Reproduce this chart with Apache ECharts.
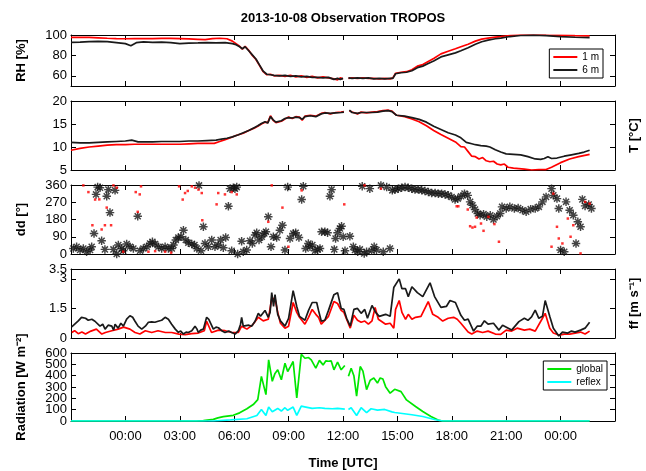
<!DOCTYPE html>
<html>
<head>
<meta charset="utf-8">
<script src="https://cdn.jsdelivr.net/npm/echarts@6/dist/echarts.min.js"></script>
<style>
  html, body { margin: 0; padding: 0; background: #fff; }
  #chart { width: 646px; height: 471px; }
</style>
</head>
<body>
<div id="chart"></div>
<script>
// time in hours from 2013-10-08 00:00 UTC, [t, value]
const rh1m = [[-3,97.7],[-2.5,97.8],[-2,97.6],[-1.5,97.2],[-1,96.8],[-0.5,96.5],[0,96.3],[0.5,96.5],[1,96.4],[1.5,96.5],[2,96.6],[2.5,96.6],[3,96.5],[3.5,96.2],[4,95.8],[4.4,95.5],[4.8,96.5],[5.2,96.8],[5.6,96.3],[5.9,94],[6.1,91.5],[6.3,89],[6.45,86],[6.6,89],[6.8,85],[7,80],[7.2,76],[7.4,70],[7.6,64],[7.8,61],[8,61.5],[8.2,60],[8.5,60.5],[8.8,59.5],[9.1,60.5],[9.4,59],[9.7,60],[10,58.5],[10.3,59.5],[10.6,58],[10.9,59],[11.2,58],[11.5,57],[11.7,56],[11.85,58],[12,57],[12.15,null],[12.3,57.5],[12.5,58],[12.8,57.5],[13.1,58],[13.4,57.5],[13.7,57.5],[14,57],[14.3,57.5],[14.6,57],[14.75,58],[14.9,62.5],[15.2,63.5],[15.5,64],[15.8,66],[16.1,69.5],[16.4,71],[16.7,74],[17,77],[17.4,81.5],[17.8,84],[18.2,86.5],[18.5,88.5],[18.9,91],[19.3,94],[19.65,96],[20,97],[20.4,98],[20.7,98.5],[21.2,99.5],[21.8,100],[22.5,100],[23.2,99.8],[24,99.6],[24.8,99.3],[25.6,99.2]];
const rh6m = [[-3,92.8],[-2.5,93],[-2,93.5],[-1.5,93.8],[-1,93.5],[-0.5,92.5],[0,91.5],[0.3,89.5],[0.6,92.5],[1,93.2],[1.5,92.8],[2,93],[2.5,92.5],[3,91.5],[3.5,92],[4,92.2],[4.5,92.5],[5,92.3],[5.5,92.5],[5.9,91.5],[6.1,90.5],[6.3,88.5],[6.45,86.5],[6.6,88.5],[6.8,84.5],[7,80.5],[7.2,76.5],[7.4,70.5],[7.6,64.5],[7.8,61.5],[8,61],[8.2,60.5],[8.5,60],[8.8,60.5],[9.1,59.5],[9.4,60],[9.7,59],[10,59.5],[10.3,58.5],[10.6,58.5],[10.9,58],[11.2,58.5],[11.5,56.5],[11.7,57.5],[11.85,56.5],[12,57.5],[12.15,null],[12.3,58],[12.5,57.5],[12.8,58],[13.1,57.5],[13.4,58],[13.7,57],[14,57.5],[14.3,57],[14.6,57.5],[14.75,57.5],[14.9,62],[15.2,63],[15.5,63.5],[15.8,65],[16.1,68],[16.4,69.5],[16.7,72],[17,74.5],[17.4,78.5],[17.8,80.5],[18.2,82.5],[18.5,84.5],[18.9,87.5],[19.3,91],[19.65,93.4],[20,95],[20.4,96.3],[20.7,97],[21.2,98.5],[21.8,99.5],[22.5,99.8],[23.2,99.3],[24,98.5],[24.8,97.8],[25.6,97.5]];

const t1m = [[-3,9.3],[-2.5,9.7],[-2,10],[-1.5,10.2],[-1,10.4],[-0.5,10.5],[0,10.5],[0.5,10.6],[1,10.6],[1.5,10.6],[2,10.6],[2.5,10.6],[3,10.6],[3.5,10.7],[4,10.8],[4.5,10.8],[4.9,10.8],[5.2,11.2],[5.5,11.6],[5.8,12],[6.1,12.5],[6.5,13],[6.8,13.6],[7.1,14.1],[7.3,14.5],[7.5,15],[7.7,15.4],[7.85,15.3],[8,16.8],[8.15,15.8],[8.3,15.3],[8.6,15.6],[8.8,16.1],[9,16.5],[9.2,16.2],[9.4,16.6],[9.6,16.5],[9.75,15.8],[9.9,16.7],[10.2,16.9],[10.5,16.7],[10.8,17.3],[11,17.5],[11.3,17.2],[11.6,17.5],[11.9,17.6],[12.05,17.7],[12.2,null],[12.35,17.9],[12.5,17.6],[12.8,17.2],[13,17.6],[13.3,17.4],[13.6,17.6],[13.9,17.7],[14.2,17.9],[14.5,18],[14.7,17.8],[14.95,16.9],[15.4,16.6],[15.8,16.1],[16.2,15.5],[16.6,14.6],[17,13.6],[17.4,12.7],[17.8,11.9],[18.2,11.1],[18.5,10.1],[18.7,10],[18.9,9],[19.1,8],[19.3,7.9],[19.5,7.4],[19.7,7.7],[19.9,7],[20.1,6.8],[20.3,6.9],[20.5,6.3],[20.7,6.1],[20.9,6.3],[21.1,5.6],[21.4,5.4],[21.7,5.3],[22,5.2],[22.4,5],[22.8,5.1],[23.2,5.1],[23.5,5.6],[24,6.6],[24.5,7.4],[25,7.9],[25.6,8.4]];
const t6m = [[-3,11],[-2.5,10.9],[-2,10.9],[-1.5,11],[-1,11.1],[-0.5,11.2],[0,11.3],[0.35,11.5],[0.7,11.1],[1,11.1],[1.5,11.1],[2,11.2],[2.5,11.2],[3,11.2],[3.5,11.3],[4,11.3],[4.5,11.4],[5,11.5],[5.3,11.7],[5.6,11.9],[5.9,12.2],[6.2,12.6],[6.5,13.1],[6.8,13.6],[7.1,14.2],[7.3,14.6],[7.5,15.1],[7.7,15.5],[7.85,15.2],[8,16.6],[8.15,15.9],[8.3,15.4],[8.6,15.7],[8.8,16.2],[9,16.4],[9.2,16.3],[9.4,16.5],[9.6,16.4],[9.75,16],[9.9,16.6],[10.2,16.8],[10.5,16.6],[10.8,17.2],[11,17.4],[11.3,17.3],[11.6,17.4],[11.9,17.5],[12.05,17.6],[12.2,null],[12.35,18],[12.5,17.5],[12.8,17.3],[13,17.5],[13.3,17.5],[13.6,17.5],[13.9,17.6],[14.2,17.8],[14.5,17.9],[14.7,17.7],[14.95,16.9],[15.4,16.7],[15.8,16.4],[16.2,16],[16.6,15.4],[17,14.5],[17.4,13.8],[17.8,13.1],[18.2,12.6],[18.5,12],[18.8,11],[19.1,10.7],[19.3,10.5],[19.6,10.3],[19.9,10.2],[20.1,10],[20.4,9.4],[20.7,8.9],[21,8.5],[21.4,8.4],[21.8,8.3],[22.2,7.9],[22.6,7.4],[22.9,7.3],[23.1,7.5],[23.3,7.9],[23.5,7.5],[23.8,7.6],[24.2,8],[24.6,8.3],[25,8.6],[25.3,8.9],[25.6,9.3]];

const dd6m = [[-2.87,29],[-2.69,38],[-2.5,21],[-2.32,29],[-2.14,12],[-1.95,21],[-1.86,38],[-1.73,107],[-1.62,311],[-1.53,349],[-1.4,346],[-1.31,69],[-1.13,24],[-1.03,301],[-0.94,336],[-0.85,216],[-0.66,24],[-0.57,332],[-0.48,0],[-0.39,47],[-0.21,29],[-0.12,17],[0.07,52],[0.25,38],[0.44,29],[0.68,197],[0.81,17],[0.99,29],[1.18,38],[1.36,55],[1.49,64],[1.64,52],[1.82,38],[2,29],[2.19,38],[2.37,29],[2.56,29],[2.65,47],[2.78,73],[2.92,86],[3.07,90],[3.2,124],[3.33,73],[3.47,59],[3.66,52],[3.81,47],[3.94,29],[4.06,358],[4.17,17],[4.3,142],[4.39,55],[4.57,38],[4.76,73],[4.94,38],[5.12,47],[5.25,73],[5.4,33],[5.53,86],[5.68,249],[5.77,341],[5.86,17],[5.95,346],[6.04,341],[6.14,349],[6.19,0],[6.41,67],[6.5,12],[6.69,21],[6.87,69],[7,55],[7.15,99],[7.24,111],[7.37,73],[7.52,90],[7.66,107],[7.75,116],[7.88,194],[8.03,38],[8.16,90],[8.34,86],[8.52,124],[8.66,150],[8.8,21],[8.95,349],[9.08,81],[9.26,107],[9.39,111],[9.57,86],[9.72,284],[9.81,353],[9.94,29],[10.09,55],[10.18,38],[10.31,47],[10.46,17],[10.6,24],[10.73,29],[10.82,116],[11,116],[11.15,111],[11.28,301],[11.37,336],[11.52,24],[11.59,81],[11.7,111],[11.83,133],[11.92,145],[12.01,90],[12.11,17],[12.38,93],[12.57,38],[12.66,21],[12.81,12],[12.93,24],[13.06,353],[13.17,3],[13.3,12],[13.48,341],[13.58,17],[13.72,38],[13.85,21],[14.09,358],[14.22,12],[14.41,349],[14.59,29],[14.72,332],[14.87,336],[15.05,341],[15.23,346],[15.42,349],[15.6,346],[15.79,341],[15.97,336],[16.16,336],[16.34,332],[16.52,329],[16.71,323],[16.89,318],[17.08,318],[17.26,315],[17.44,315],[17.63,311],[17.81,306],[17.99,297],[18.18,284],[18.33,289],[18.51,301],[18.7,315],[18.88,306],[19.01,272],[19.14,254],[19.28,232],[19.43,211],[19.56,202],[19.75,208],[19.93,194],[20.12,202],[20.3,180],[20.49,197],[20.67,211],[20.77,246],[21,237],[21.2,246],[21.45,237],[21.66,240],[21.9,228],[22.1,220],[22.35,234],[22.6,237],[22.8,246],[23,272],[23.2,298],[23.5,341],[23.6,306],[23.8,289],[23.9,237],[24,21],[24.2,12],[24.3,272],[24.5,228],[24.7,202],[24.85,55],[24.95,168],[25.1,142],[25.2,285],[25.35,251],[25.55,258],[25.7,237]];
const dd1m = [[-2.32,358],[-2.04,323],[-1.82,150],[-1.67,284],[-1.44,285],[-1.31,128],[-1.13,150],[-1.03,242],[-0.79,150],[-0.66,358],[-0.48,346],[-0.12,12],[0.57,323],[0.79,311],[0.68,220],[0.86,353],[1.27,12],[1.64,15],[2.19,12],[2.52,7],[2.96,353],[3.16,284],[3.29,318],[3.44,329],[3.66,353],[3.84,346],[4.03,336],[4.21,318],[4.24,176],[5.03,259],[5.12,318],[5.49,311],[5.86,323],[6.14,311],[7.88,168],[8.07,358],[8.66,242],[8.99,38],[9.72,332],[12.07,259],[13.19,358],[14.09,341],[18.27,249],[18.36,249],[18.88,232],[19.01,145],[19.14,138],[19.28,142],[19.37,190],[19.61,159],[19.75,121],[20.02,194],[20.35,156],[20.6,64],[23.5,38],[23.6,315],[23.8,142],[23.9,81],[24.1,55],[24.4,185],[24.55,90],[24.7,150],[25.1,3],[25.35,272],[25.6,263]];

const ff6m = [[-2.96,0.57],[-2.6,0.87],[-2.42,1.05],[-2.2,1],[-2.05,0.9],[-1.85,0.95],[-1.68,0.85],[-1.4,0.6],[-1.25,0.7],[-1.12,0.45],[-0.95,0.65],[-0.75,0.6],[-0.65,0.4],[-0.57,0.7],[-0.4,0.5],[-0.25,0.75],[-0.11,0.6],[0.07,0.96],[0.25,1.13],[0.4,1.05],[0.53,0.85],[0.7,0.6],[0.9,0.45],[1.1,0.6],[1.27,0.8],[1.45,0.82],[1.63,0.8],[1.8,0.85],[2,0.9],[2.19,1.05],[2.37,0.95],[2.55,0.7],[2.75,0.45],[2.92,0.29],[3.05,0.35],[3.2,0.2],[3.35,0.3],[3.47,0.28],[3.66,0.37],[3.84,0.6],[3.95,0.45],[4.02,0.28],[4.15,0.4],[4.3,0.45],[4.48,1.05],[4.6,0.95],[4.67,0.85],[4.85,0.45],[5,0.55],[5.13,0.52],[5.31,0.37],[5.49,0.28],[5.7,0.35],[5.86,0.28],[6.05,0.2],[6.23,0.37],[6.35,0.7],[6.41,1.05],[6.5,0.6],[6.6,0.55],[6.8,0.65],[6.96,0.6],[7.15,0.85],[7.33,1.25],[7.45,1.1],[7.52,1],[7.7,1.4],[7.88,1.05],[7.98,1.3],[8.07,2.3],[8.17,1.6],[8.25,2.2],[8.4,1.2],[8.55,0.87],[8.8,0.6],[9,1],[9.25,2.4],[9.45,1.6],[9.6,1.1],[9.9,0.9],[10.1,1.4],[10.3,1.8],[10.55,1.8],[10.65,1.4],[10.8,0.86],[11,0.9],[11.2,1.4],[11.5,2.2],[11.7,2.3],[11.9,1.5],[12.05,1.45],[12.2,1],[12.4,0.6],[12.6,1.45],[12.8,1.5],[13,1.25],[13.2,1.45],[13.35,1],[13.6,1.65],[13.8,1.3],[14,1.1],[14.35,1.2],[14.6,1.1],[14.8,2.56],[15.1,3],[15.25,2.5],[15.45,2.5],[15.6,2.1],[15.8,2.6],[16.1,2.3],[16.4,2.1],[16.8,2.8],[17.05,2.1],[17.4,1.55],[17.7,1.6],[17.9,1.9],[18.2,1.8],[18.5,1.15],[18.7,0.9],[18.9,0.96],[19.2,0.35],[19.4,0.6],[19.6,0.6],[19.8,0.87],[20,0.7],[20.3,0.75],[20.6,0.4],[20.8,0.65],[21.3,0.4],[21.7,0.83],[22,1],[22.2,0.9],[22.4,1.07],[22.6,1.41],[22.8,1],[23,1.1],[23.15,1.9],[23.4,1.1],[23.6,0.5],[23.9,0.1],[24.1,0.3],[24.4,0.25],[24.6,0.35],[24.8,0.3],[25.1,0.4],[25.35,0.5],[25.6,0.8]];
const ff1m = [[-2.96,0.28],[-2.8,0.37],[-2.6,0.22],[-2.4,0.3],[-2.2,0.2],[-1.9,0.35],[-1.6,0.45],[-1.3,0.2],[-1.1,0.28],[-0.75,0.37],[-0.4,0.45],[-0.1,0.55],[0.25,0.45],[0.53,0.28],[0.8,0.2],[1.1,0.37],[1.45,0.28],[1.8,0.37],[2.2,0.28],[2.55,0.28],[2.95,0.2],[3.3,0.17],[3.66,0.22],[4.02,0.25],[4.35,0.37],[4.48,0.85],[4.75,0.28],[5.13,0.4],[5.5,0.37],[5.86,0.28],[6.23,0.28],[6.41,0.6],[6.7,0.45],[7,0.65],[7.33,1.05],[7.6,0.87],[7.88,0.95],[8.07,2],[8.25,2],[8.4,1.3],[8.55,0.75],[8.8,0.5],[9,0.6],[9.25,1.8],[9.45,1.3],[9.6,1.05],[9.9,0.7],[10.1,1.05],[10.3,1.45],[10.5,1.2],[10.65,1.05],[10.8,0.7],[11.2,1.1],[11.5,1.85],[11.7,1.75],[11.9,1.4],[12.05,1.3],[12.2,0.95],[12.4,0.5],[12.6,1.15],[12.8,0.9],[13,0.8],[13.2,0.86],[13.4,0.7],[13.6,0.87],[13.77,1.55],[13.95,0.95],[14.35,0.7],[14.6,0.75],[14.8,0.5],[14.9,1.45],[15.1,1.9],[15.25,1.3],[15.45,0.95],[15.6,1.2],[15.8,0.95],[16,1.05],[16.3,1.1],[16.7,1.85],[16.95,1.2],[17.25,1.05],[17.5,0.86],[17.8,1],[18.1,1.05],[18.3,0.95],[18.5,0.75],[18.9,0.3],[19.1,0.2],[19.4,0.35],[19.7,0.28],[20,0.35],[20.4,0.2],[20.7,0.18],[21,0.4],[21.3,0.35],[21.6,0.5],[22,0.4],[22.3,0.45],[22.6,0.35],[23,1],[23.15,1.25],[23.4,0.5],[23.6,0.25],[23.9,0.15],[24.2,0.2],[24.5,0.2],[24.8,0.25],[25.1,0.3],[25.35,0.2],[25.6,0.35]];

const radGlobal = [[-3,0],[3.9,0],[4.3,4],[4.85,14],[5.1,28],[5.4,38],[5.95,50],[6.3,72],[6.7,108],[7.05,145],[7.3,189],[7.5,394],[7.75,233],[7.9,539],[8.1,350],[8.25,420],[8.4,452],[8.6,364],[8.8,510],[8.95,437],[9.1,480],[9.25,525],[9.45,204],[9.7,589],[9.9,554],[10.1,560],[10.25,539],[10.5,466],[10.7,535],[10.9,495],[11.05,530],[11.2,527],[11.35,530],[11.5,452],[11.7,520],[11.9,452],[12.1,490],[12.2,null],[12.3,394],[12.45,466],[12.6,400],[12.75,219],[12.95,481],[13.1,440],[13.3,277],[13.5,360],[13.7,379],[13.9,335],[14.05,380],[14.2,370],[14.35,303],[14.6,245],[14.85,280],[15.2,259],[15.5,186],[16,128],[16.4,84],[16.85,40],[17.3,5],[17.5,0],[25.6,0]];
const radReflex = [[-3,0],[4.85,0],[5.8,10],[6.7,20],[7.25,49],[7.5,102],[7.75,49],[7.9,123],[8.1,81],[8.4,111],[8.6,88],[8.8,117],[8.95,94],[9.25,123],[9.45,49],[9.7,131],[9.95,123],[10.3,111],[10.7,117],[11,111],[11.4,108],[11.7,111],[12.1,105],[12.2,null],[12.3,102],[12.45,117],[12.75,49],[13,117],[13.3,73],[13.55,108],[13.9,96],[14.3,102],[14.7,81],[14.85,75],[15.8,55],[16.4,40],[17.1,11],[17.5,0],[25.6,0]];

// tick positions and label groups (labels split in groups so they never hide each other)
const rhTicks = [60, 80, 100];
const tTicks = [5, 10, 15, 20];
const ddTicks = [0, 90, 180, 270, 360];
const ffTicks = [0, 1.5, 3, 3.5];
const radTicks = [0, 100, 200, 300, 400, 500, 600];
const ffLabelGroups = [[0, 1.5, 3], [3.5]];
const radLabelGroups = [[0, 200, 400, 600], [100, 300, 500]];

const FONT = 'Liberation Sans, Arial, Helvetica, sans-serif';
const ASTERISK = 'path://M-1.7,-10L1.7,-10L1.7,10L-1.7,10Z M-10,-1.7L10,-1.7L10,1.7L-10,1.7Z M-8.3,-5.9L-5.9,-8.3L8.3,5.9L5.9,8.3Z M5.9,-8.3L8.3,-5.9L-5.9,8.3L-8.3,5.9Z';

const panels = [
  {top: 35, height: 51, min: 50, max: 100, ticks: rhTicks, labels: [rhTicks], name: 'RH [%]', side: 'left'},
  {top: 101, height: 69, min: 5, max: 20, ticks: tTicks, labels: [tTicks], name: 'T [°C]', side: 'right'},
  {top: 185, height: 69, min: 0, max: 360, ticks: ddTicks, labels: [ddTicks], name: 'dd [°]', side: 'left'},
  {top: 269, height: 69, min: 0, max: 3.5, ticks: ffTicks, labels: ffLabelGroups, name: 'ff [m s⁻¹]', side: 'right'},
  {top: 353, height: 68, min: 0, max: 600, ticks: radTicks, labels: radLabelGroups, name: 'Radiation [W m⁻²]', side: 'left'}
];

function hhmm(v) {
  const h = ((v % 24) + 24) % 24;
  return (h < 10 ? '0' : '') + h + ':00';
}

const grid = [], xAxis = [], yAxis = [];
const tickStyle = {show: true, inside: true, length: 5, lineStyle: {color: '#000', width: 1}};
const boxLine = {show: true, onZero: false, lineStyle: {color: '#000', width: 1}};
const labelFont = {color: '#000', fontSize: 13, fontFamily: FONT};
const nameFont = {fontWeight: 'bold', fontSize: 13, color: '#000', fontFamily: FONT};
const yIndex = [];

panels.forEach((p, i) => {
  grid.push({left: 71, right: 31, top: p.top, height: p.height, show: false, outerBoundsMode: 'none'});
  const last = i === panels.length - 1;
  xAxis.push({
    type: 'value', gridIndex: i, position: 'bottom', min: -3, max: 27, interval: 3,
    axisLine: boxLine, splitLine: {show: false}, axisTick: tickStyle,
    axisLabel: last ? Object.assign({formatter: hhmm, showMinLabel: false, showMaxLabel: false, margin: 9}, labelFont) : {show: false},
    name: last ? 'Time [UTC]' : '', nameLocation: 'middle', nameGap: 36, nameTextStyle: nameFont
  });
  xAxis.push({
    type: 'value', gridIndex: i, position: 'top', min: -3, max: 27, interval: 3,
    axisLine: boxLine, splitLine: {show: false}, axisTick: tickStyle, axisLabel: {show: false}
  });

  yIndex.push(yAxis.length);
  // left axis: box line, ticks, first label group
  yAxis.push({
    type: 'value', gridIndex: i, position: 'left', min: p.min, max: p.max,
    axisLine: boxLine, splitLine: {show: false},
    axisTick: Object.assign({customValues: p.ticks}, tickStyle),
    axisLabel: Object.assign({customValues: p.labels[0], margin: 4, showMinLabel: true, showMaxLabel: true}, labelFont),
    name: p.side === 'left' ? p.name : '', nameLocation: 'middle', nameRotate: 90, nameGap: 43, nameTextStyle: nameFont
  });
  // extra label groups on the left
  p.labels.slice(1).forEach(group => {
    yAxis.push({
      type: 'value', gridIndex: i, position: 'left', min: p.min, max: p.max,
      axisLine: {show: false, onZero: false}, splitLine: {show: false}, axisTick: {show: false},
      axisLabel: Object.assign({customValues: group, margin: 4, showMinLabel: true, showMaxLabel: true}, labelFont)
    });
  });
  // right axis: box line, ticks, name for right-side panels
  yAxis.push({
    type: 'value', gridIndex: i, position: 'right', min: p.min, max: p.max,
    axisLine: boxLine, splitLine: {show: false},
    axisTick: Object.assign({customValues: p.ticks}, tickStyle),
    axisLabel: {show: false},
    name: p.side === 'right' ? p.name : '', nameLocation: 'middle', nameRotate: 90, nameGap: 13, nameTextStyle: nameFont
  });
});

function line(name, data, panel, color, z) {
  return {
    name: name, type: 'line', data: data, xAxisIndex: panel * 2, yAxisIndex: yIndex[panel],
    showSymbol: false, symbol: 'none', connectNulls: false, z: z || 2,
    lineStyle: {color: color, width: 1.7}, itemStyle: {color: color}
  };
}

const series = [
  line('1 m', rh1m, 0, '#ff0000', 2),
  line('6 m', rh6m, 0, '#1a1a1a', 3),
  line('T 1 m', t1m, 1, '#ff0000', 2),
  line('T 6 m', t6m, 1, '#1a1a1a', 3),
  {
    name: 'dd 6 m', type: 'scatter', data: dd6m, xAxisIndex: 4, yAxisIndex: yIndex[2],
    symbol: ASTERISK, symbolSize: 8.5, itemStyle: {color: '#151515'}, z: 2
  },
  {
    name: 'dd 1 m', type: 'scatter', data: dd1m, xAxisIndex: 4, yAxisIndex: yIndex[2],
    symbol: 'rect', symbolSize: 2.5, itemStyle: {color: '#ff0000'}, z: 3
  },
  line('ff 1 m', ff1m, 3, '#ff0000', 2),
  line('ff 6 m', ff6m, 3, '#1a1a1a', 3),
  line('global', radGlobal, 4, '#00e600', 2),
  line('reflex', radReflex, 4, '#00ffff', 3)
];

const legendBase = {
  orient: 'vertical', selectedMode: false, icon: 'rect', itemWidth: 24, itemHeight: 2,
  itemGap: 3, padding: [3, 4, 3, 4], borderColor: '#000', borderWidth: 1, backgroundColor: '#fff',
  textStyle: {fontSize: 10, color: '#000', fontFamily: FONT}
};

const chart = echarts.init(document.getElementById('chart'), null, {renderer: 'canvas'});
chart.setOption({
  animation: false,
  backgroundColor: '#fff',
  title: {
    text: '2013-10-08 Observation TROPOS', left: 343, top: 12, textAlign: 'center', padding: 0,
    textStyle: {fontSize: 13, fontWeight: 'bold', color: '#000', fontFamily: FONT}
  },
  legend: [
    Object.assign({}, legendBase, {data: ['1 m', '6 m'], right: 43, top: 49}),
    Object.assign({}, legendBase, {data: ['global', 'reflex'], right: 39, top: 361})
  ],
  grid: grid,
  xAxis: xAxis,
  yAxis: yAxis,
  series: series
});
</script>
</body>
</html>
